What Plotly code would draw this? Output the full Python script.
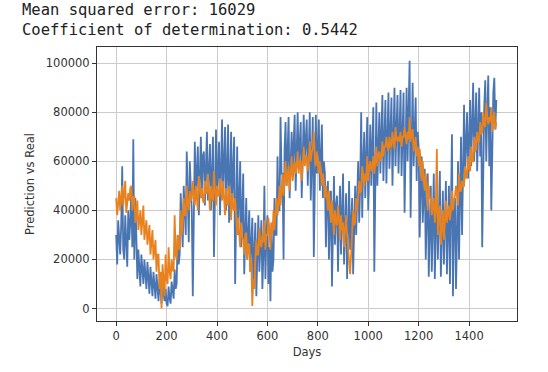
import plotly.graph_objects as go

# Values in thousands, one sample every 4 days
real_k = [
    30, 18, 36, 25, 22, 34, 58, 24, 20, 38, 30, 17, 40, 28, 35,
    48, 25, 69, 20, 45, 30, 12, 24, 15, 9, 22, 14, 10, 20, 12,
    8, 19, 12, 6, 17, 9, 5, 15, 8, 4, 14, 7, 3, 12, 6,
    2, 10, 5, 3, 8, 2, 1, 9, 4, 2, 11, 6, 4, 16, 8,
    10, 30, 18, 22, 47, 30, 25, 50, 38, 30, 64, 40, 27, 60, 45,
    40, 5, 55, 68, 45, 60, 66, 38, 52, 70, 48, 62, 64, 42, 58,
    72, 44, 60, 67, 40, 55, 70, 21, 50, 73, 46, 63, 68, 38, 60,
    77, 45, 62, 74, 40, 58, 75, 35, 55, 72, 42, 60, 70, 10, 50,
    66, 30, 50, 60, 25, 45, 55, 14, 38, 45, 20, 35, 40, 15, 30,
    37, 10, 25, 35, 5, 20, 38, 15, 28, 36, 8, 22, 50, 12, 30,
    38, 10, 25, 3, 35, 15, 20, 45, 30, 30, 62, 40, 40, 78, 55,
    55, 20, 65, 76, 50, 65, 78, 45, 62, 72, 55, 68, 79, 48, 66,
    80, 58, 70, 76, 45, 62, 79, 60, 72, 77, 50, 65, 80, 44, 70,
    78, 21, 60, 79, 55, 70, 77, 48, 65, 75, 45, 60, 55, 25, 45,
    52, 20, 40, 48, 9, 35, 54, 26, 42, 46, 15, 35, 50, 22, 40,
    55, 18, 40, 47, 12, 35, 52, 24, 40, 45, 14, 35, 50, 30, 42,
    60, 35, 50, 80, 37, 60, 72, 45, 65, 78, 40, 62, 75, 50, 68,
    82, 15, 60, 84, 50, 72, 80, 55, 70, 87, 52, 75, 85, 51, 72,
    88, 57, 75, 86, 50, 72, 90, 58, 78, 87, 55, 75, 89, 54, 76,
    88, 39, 70, 90, 60, 80, 101, 37, 75, 92, 58, 80, 86, 52, 72,
    66, 29, 50, 62, 35, 52, 57, 20, 45, 55, 13, 40, 50, 15, 35,
    55, 12, 40, 52, 20, 42, 56, 13, 38, 48, 18, 40, 52, 14, 38,
    50, 10, 35, 71, 5, 40, 45, 8, 30, 60, 20, 45, 70, 30, 55,
    83, 55, 72, 80, 53, 70, 85, 58, 75, 92, 60, 80, 88, 56, 78,
    90, 62, 80, 25, 65, 82, 93, 60, 80, 95, 58, 82, 40, 70, 88,
    94, 73, 85,
]

pred_k = [
    45, 38, 43, 48, 40, 46, 50, 42, 48, 52, 39, 45, 47, 44, 49,
    50, 40, 45, 46, 35, 42, 44, 32, 38, 40, 30, 36, 42, 28, 34,
    36, 26, 32, 34, 22, 28, 32, 20, 26, 28, 15, 22, 22, 8, 15,
    0, 18, 8, 5, 22, 12, 10, 25, 15, 12, 20, 16, 15, 38, 22,
    20, 30, 24, 25, 40, 30, 35, 45, 38, 38, 50, 42, 40, 48, 44,
    45, 52, 46, 42, 50, 44, 40, 54, 47, 45, 49, 44, 43, 52, 47,
    47, 55, 49, 40, 50, 45, 44, 56, 48, 42, 50, 46, 46, 53, 48,
    44, 52, 46, 38, 49, 43, 42, 50, 45, 36, 47, 41, 40, 45, 38,
    30, 37, 32, 25, 35, 29, 28, 22, 30, 31, 20, 26, 26, 15, 20,
    1, 12, 8, 20, 28, 22, 22, 33, 26, 25, 30, 27, 36, 24, 30,
    30, 37, 32, 24, 35, 30, 40, 32, 38, 45, 38, 42, 50, 42, 48,
    55, 46, 52, 60, 50, 55, 58, 48, 54, 62, 52, 58, 60, 55, 58,
    64, 55, 60, 60, 52, 58, 66, 58, 62, 62, 56, 60, 68, 60, 64,
    65, 72, 62, 58, 64, 60, 55, 60, 56, 50, 55, 52, 45, 50, 46,
    40, 48, 42, 35, 44, 38, 30, 40, 35, 34, 42, 37, 28, 38, 32,
    35, 25, 32, 38, 30, 24, 20, 14, 22, 30, 40, 34, 35, 45, 40,
    45, 52, 47, 48, 58, 52, 50, 55, 52, 62, 52, 58, 60, 56, 58,
    62, 55, 60, 66, 58, 63, 64, 60, 62, 68, 62, 66, 66, 70, 66,
    64, 70, 66, 66, 72, 68, 65, 74, 69, 68, 70, 68, 72, 66, 70,
    70, 74, 70, 67, 72, 69, 78, 68, 72, 73, 64, 68, 70, 62, 66,
    58, 65, 60, 52, 60, 55, 48, 55, 50, 40, 50, 45, 45, 38, 42,
    45, 35, 40, 65, 30, 38, 42, 26, 34, 40, 28, 35, 44, 35, 40,
    42, 36, 40, 48, 40, 44, 46, 50, 45, 42, 55, 48, 48, 52, 50,
    50, 58, 53, 54, 62, 57, 56, 66, 60, 60, 70, 64, 65, 72, 68,
    68, 76, 71, 72, 80, 75, 74, 84, 78, 75, 78, 76, 82, 72, 78,
    80, 73, 76,
]

days = [i * 4 for i in range(len(real_k))]
real = [v * 1000 for v in real_k]
pred = [v * 1000 for v in pred_k]

x_ticks = [0, 200, 400, 600, 800, 1000, 1200, 1400]
y_ticks = [0, 20000, 40000, 60000, 80000, 100000]

mse_text = "Mean squared error: 16029"
r2_text = "Coefficient of determination: 0.5442"

BLUE = "#4a75b3"
ORANGE = "#e8821f"

fig = go.Figure()
fig.add_trace(go.Scatter(x=days, y=real, mode="lines",
                         line=dict(color=BLUE, width=1.8), showlegend=False))
fig.add_trace(go.Scatter(x=days, y=pred, mode="lines",
                         line=dict(color=ORANGE, width=1.8), showlegend=False))

axis_common = dict(
    showline=True, linecolor="#333333", linewidth=1, mirror=True,
    ticks="outside", ticklen=4, tickcolor="#333333", tickwidth=1,
    showgrid=True, gridcolor="#cccccc", gridwidth=1, zeroline=False,
    tickfont=dict(family="DejaVu Sans", size=11.5, color="#333333"),
)

fig.update_xaxes(range=[-76, 1590], tickvals=x_ticks,
                 ticktext=[str(t) for t in x_ticks],
                 title=dict(text="Days", standoff=6,
                            font=dict(family="DejaVu Sans", size=11.5, color="#333333")),
                 **axis_common)
fig.update_yaxes(range=[-5075, 106575], tickvals=y_ticks,
                 ticktext=[str(t) for t in y_ticks],
                 title=dict(text="Prediction vs Real", standoff=8,
                            font=dict(family="DejaVu Sans", size=11.5, color="#333333")),
                 **axis_common)

fig.add_annotation(text=mse_text, xref="paper", yref="paper",
                   x=-0.184, y=1.135, xanchor="left", yanchor="middle",
                   showarrow=False,
                   font=dict(family="DejaVu Sans Mono", size=15.5, color="#222222"))
fig.add_annotation(text=r2_text, xref="paper", yref="paper",
                   x=-0.184, y=1.062, xanchor="left", yanchor="middle",
                   showarrow=False,
                   font=dict(family="DejaVu Sans Mono", size=15.5, color="#222222"))

fig.update_layout(
    width=548, height=372,
    margin=dict(l=97, r=31, t=47, b=51),
    paper_bgcolor="white", plot_bgcolor="white",
)

fig.write_html("out.html", config={"displayModeBar": False},
               post_script="document.body.style.margin='0';document.body.style.overflow='hidden';")
